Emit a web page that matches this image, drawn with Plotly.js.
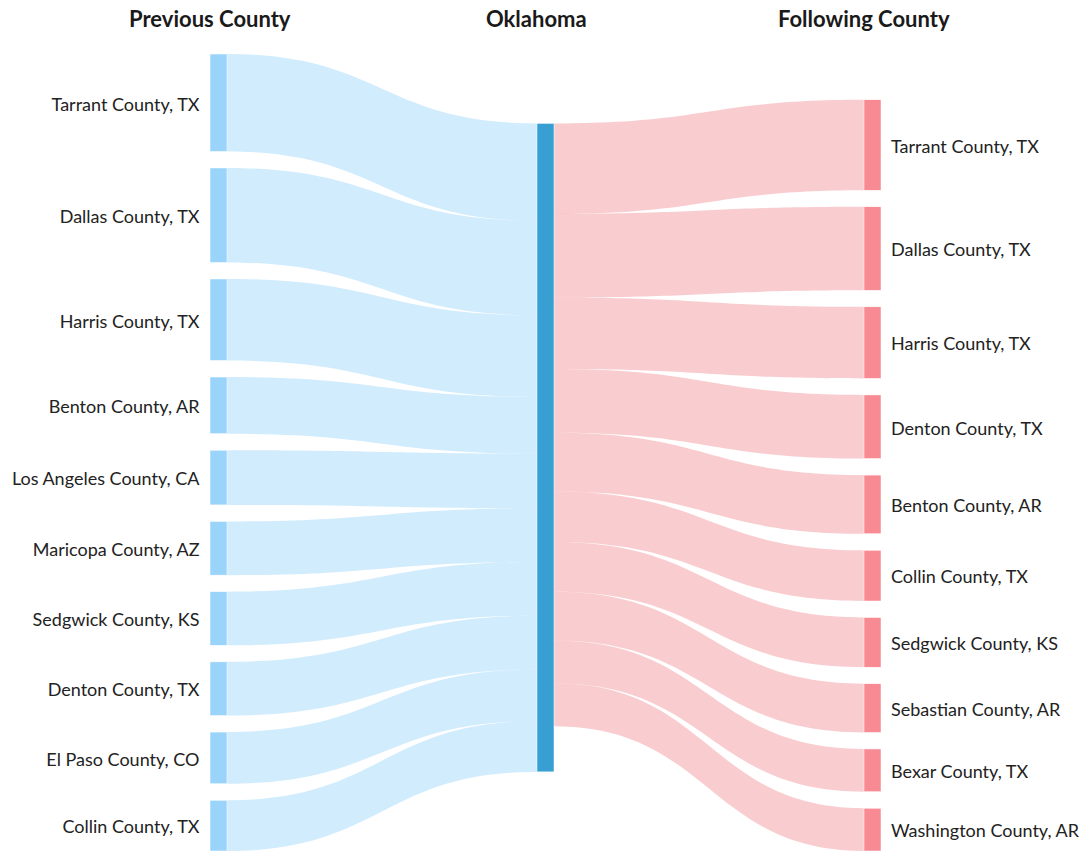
<!DOCTYPE html>
<html>
<head>
<meta charset="utf-8">
<script src="https://cdn.plot.ly/plotly-3.0.1.min.js"></script>
<style>
  html, body { margin: 0; padding: 0; background: #ffffff; }
  #chart { width: 1080px; height: 853px; }
</style>
</head>
<body>
<div id="chart"></div>
<script>
// ---- data ----
const centerLabel = 'Oklahoma';
const previousCounties = [
  'Tarrant County, TX', 'Dallas County, TX', 'Harris County, TX', 'Benton County, AR',
  'Los Angeles County, CA', 'Maricopa County, AZ', 'Sedgwick County, KS',
  'Denton County, TX', 'El Paso County, CO', 'Collin County, TX'
];
const previousValues = [98, 95, 82, 57, 55, 54, 54, 54, 52, 51];
const followingCounties = [
  'Tarrant County, TX', 'Dallas County, TX', 'Harris County, TX', 'Denton County, TX',
  'Benton County, AR', 'Collin County, TX', 'Sedgwick County, KS',
  'Sebastian County, AR', 'Bexar County, TX', 'Washington County, AR'
];
const followingValues = [91, 84, 72, 64, 59, 51, 50, 49, 43, 43];
const headerTexts = ['Previous County', 'Oklahoma', 'Following County'];

// ---- styles ----
const prevNodeColor = '#9AD4FB';
const centerNodeColor = '#389FD3';
const nextNodeColor = '#F78A92';
const prevLinkColor = 'rgba(135,206,250,0.38)';
const nextLinkColor = 'rgba(240,128,136,0.40)';
const FONT = 'Lato, "Noto Sans", sans-serif';

// ---- build sankey ----
const labels = previousCounties.concat([centerLabel], followingCounties);
const centerIdx = previousCounties.length;
const nodeColors = previousCounties.map(() => prevNodeColor)
  .concat([centerNodeColor], followingCounties.map(() => nextNodeColor));

const source = [], target = [], value = [], linkColors = [];
previousCounties.forEach((c, i) => {
  source.push(i); target.push(centerIdx); value.push(previousValues[i]); linkColors.push(prevLinkColor);
});
followingCounties.forEach((c, j) => {
  source.push(centerIdx); target.push(centerIdx + 1 + j); value.push(followingValues[j]); linkColors.push(nextLinkColor);
});

const trace = {
  type: 'sankey',
  orientation: 'h',
  arrangement: 'snap',
  node: {
    label: labels,
    color: nodeColors,
    thickness: 17,
    pad: 16.5,
    line: { color: '#ffffff', width: 0.5 },
    hovertemplate: '%{label}<extra></extra>'
  },
  link: {
    source: source,
    target: target,
    value: value,
    color: linkColors,
    line: { color: 'rgba(0,0,0,0)', width: 0 }
  },
  textfont: { family: FONT, size: 18, color: '#222222', shadow: 'none' }
};

const headerX = [0, 0.4873, 0.9747];
const annotations = headerTexts.map((t, i) => ({
  text: '<b>' + t + '</b>',
  xref: 'paper', yref: 'paper',
  x: headerX[i], y: 1.045,
  xanchor: 'center', yanchor: 'middle',
  showarrow: false,
  font: { family: FONT, size: 22, color: '#1a1a1a' }
}));

const layout = {
  width: 1080,
  height: 853,
  margin: { l: 210, r: 199, t: 54, b: 2 },
  paper_bgcolor: '#ffffff',
  plot_bgcolor: '#ffffff',
  font: { family: FONT, size: 18, color: '#222222' },
  annotations: annotations
};

function placeLabels(gd) {
  const groups = gd.querySelectorAll('.sankey-node');
  groups.forEach(g => {
    const d = g.__data__;
    const txt = g.querySelector('.node-label');
    if (!d || !txt) return;
    if (txt.getAttribute('data-placed') === '1') return;
    const idx = d.node && (d.node.pointNumber !== undefined ? d.node.pointNumber : d.node.index);
    const w = d.visibleWidth || 17;
    const tr = txt.getAttribute('transform') || '';
    const m = tr.match(/translate\(\s*([-\d.e]+)[ ,]+([-\d.e]+)\s*\)/);
    const y = (m ? parseFloat(m[2]) : 0) + 1.5;
    if (idx === centerIdx) {
      txt.style.display = 'none';
    } else if (idx < centerIdx) {
      txt.setAttribute('text-anchor', 'end');
      txt.style.textAnchor = 'end';
      txt.setAttribute('transform', 'translate(' + (-10.5) + ',' + y + ')');
    } else {
      txt.setAttribute('text-anchor', 'start');
      txt.style.textAnchor = 'start';
      txt.setAttribute('transform', 'translate(' + (w + 10) + ',' + y + ')');
    }
    txt.setAttribute('data-placed', '1');
  });
}

Plotly.newPlot('chart', [trace], layout, { displayModeBar: false, staticPlot: false })
  .then(gd => { placeLabels(gd); setTimeout(() => placeLabels(gd), 50); });
</script>
</body>
</html>
